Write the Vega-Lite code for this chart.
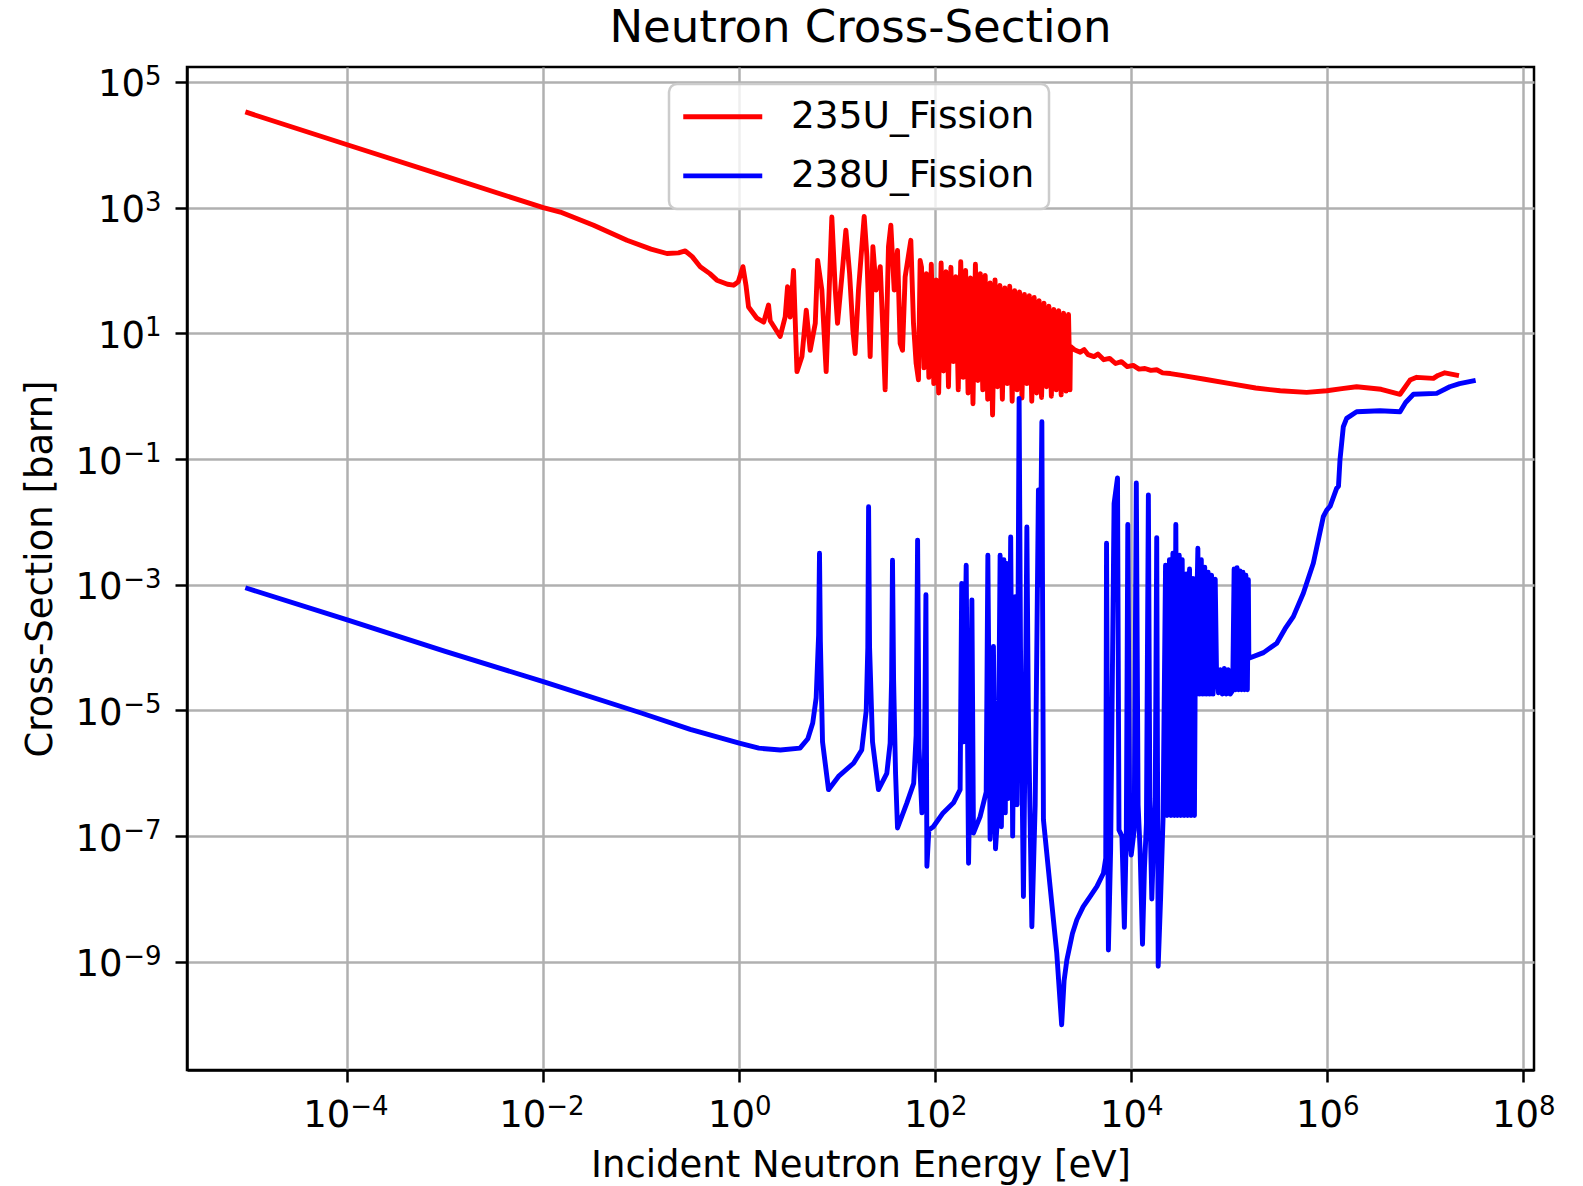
{
  "$schema": "https://vega.github.io/schema/vega-lite/v6.json",
  "width": 1347,
  "height": 1003,
  "autosize": {"type": "none"},
  "padding": {"left": 187, "top": 67, "right": 49, "bottom": 116},
  "background": "white",
  "title": {"text": "Neutron Cross-Section", "fontSize": 45, "font": "DejaVu Sans", "fontWeight": "normal", "color": "black", "anchor": "middle", "frame": "group", "offset": 12},
  "config": {"view": {"stroke": "black", "strokeWidth": 2.5}},
  "data": {"values": [
    {"series": "235U_Fission", "E": 9.64e-6, "sigma": 32400},
    {"series": "235U_Fission", "E": 1e-4, "sigma": 10000},
    {"series": "235U_Fission", "E": 1e-3, "sigma": 3162},
    {"series": "235U_Fission", "E": 0.01, "sigma": 1000},
    {"series": "235U_Fission", "E": 0.01493, "sigma": 851},
    {"series": "235U_Fission", "E": 0.03266, "sigma": 524.8},
    {"series": "235U_Fission", "E": 0.07145, "sigma": 302},
    {"series": "235U_Fission", "E": 0.1259, "sigma": 218.8},
    {"series": "235U_Fission", "E": 0.1828, "sigma": 186.2},
    {"series": "235U_Fission", "E": 0.2399, "sigma": 190.5},
    {"series": "235U_Fission", "E": 0.2812, "sigma": 204.2},
    {"series": "235U_Fission", "E": 0.3311, "sigma": 166},
    {"series": "235U_Fission", "E": 0.3999, "sigma": 114.8},
    {"series": "235U_Fission", "E": 0.5012, "sigma": 89.1},
    {"series": "235U_Fission", "E": 0.5916, "sigma": 70.1},
    {"series": "235U_Fission", "E": 0.7586, "sigma": 60.3},
    {"series": "235U_Fission", "E": 0.875, "sigma": 58.3},
    {"series": "235U_Fission", "E": 0.9772, "sigma": 66.1},
    {"series": "235U_Fission", "E": 1.091, "sigma": 114.8},
    {"series": "235U_Fission", "E": 1.175, "sigma": 56.2},
    {"series": "235U_Fission", "E": 1.245, "sigma": 26.3},
    {"series": "235U_Fission", "E": 1.514, "sigma": 17.4},
    {"series": "235U_Fission", "E": 1.778, "sigma": 15.1},
    {"series": "235U_Fission", "E": 1.991, "sigma": 28.2},
    {"series": "235U_Fission", "E": 2.07, "sigma": 15.85},
    {"series": "235U_Fission", "E": 2.618, "sigma": 8.91},
    {"series": "235U_Fission", "E": 2.944, "sigma": 18.2},
    {"series": "235U_Fission", "E": 3.112, "sigma": 55.0},
    {"series": "235U_Fission", "E": 3.311, "sigma": 18.2},
    {"series": "235U_Fission", "E": 3.581, "sigma": 100},
    {"series": "235U_Fission", "E": 3.882, "sigma": 2.455},
    {"series": "235U_Fission", "E": 4.365, "sigma": 4.266},
    {"series": "235U_Fission", "E": 4.831, "sigma": 23.4},
    {"series": "235U_Fission", "E": 5.297, "sigma": 5.37},
    {"series": "235U_Fission", "E": 5.97, "sigma": 14.45},
    {"series": "235U_Fission", "E": 6.31, "sigma": 144.5},
    {"series": "235U_Fission", "E": 6.966, "sigma": 49.0},
    {"series": "235U_Fission", "E": 7.709, "sigma": 2.455},
    {"series": "235U_Fission", "E": 8.81, "sigma": 707.9},
    {"series": "235U_Fission", "E": 9.55, "sigma": 49.0},
    {"series": "235U_Fission", "E": 10.07, "sigma": 14.45},
    {"series": "235U_Fission", "E": 11.14, "sigma": 79.4},
    {"series": "235U_Fission", "E": 12.25, "sigma": 436.5},
    {"series": "235U_Fission", "E": 13.37, "sigma": 89.1},
    {"series": "235U_Fission", "E": 14.45, "sigma": 11.22},
    {"series": "235U_Fission", "E": 15.24, "sigma": 4.786},
    {"series": "235U_Fission", "E": 16.48, "sigma": 49.0},
    {"series": "235U_Fission", "E": 18.84, "sigma": 724.4},
    {"series": "235U_Fission", "E": 20.09, "sigma": 166},
    {"series": "235U_Fission", "E": 21.68, "sigma": 4.266},
    {"series": "235U_Fission", "E": 23.12, "sigma": 239.9},
    {"series": "235U_Fission", "E": 25.0, "sigma": 49.0},
    {"series": "235U_Fission", "E": 27.48, "sigma": 114.8},
    {"series": "235U_Fission", "E": 29.24, "sigma": 11.22},
    {"series": "235U_Fission", "E": 30.83, "sigma": 1.259},
    {"series": "235U_Fission", "E": 33.34, "sigma": 239.9},
    {"series": "235U_Fission", "E": 35.24, "sigma": 524.8},
    {"series": "235U_Fission", "E": 38.11, "sigma": 49.0},
    {"series": "235U_Fission", "E": 41.21, "sigma": 208.9},
    {"series": "235U_Fission", "E": 43.85, "sigma": 6.918},
    {"series": "235U_Fission", "E": 46.34, "sigma": 5.37},
    {"series": "235U_Fission", "E": 49.32, "sigma": 79.4},
    {"series": "235U_Fission", "E": 56.36, "sigma": 302},
    {"series": "235U_Fission", "E": 59.98, "sigma": 14.45},
    {"series": "235U_Fission", "E": 63.83, "sigma": 3.311},
    {"series": "235U_Fission", "E": 67.45, "sigma": 1.82},
    {"series": "235U_Fission", "E": 70.15, "sigma": 144.5},
    {"series": "235U_Fission", "E": 72.44, "sigma": 112.2},
    {"series": "235U_Fission", "E": 76.74, "sigma": 2.818},
    {"series": "235U_Fission", "E": 81.28, "sigma": 89.13},
    {"series": "235U_Fission", "E": 86.10, "sigma": 1.995},
    {"series": "235U_Fission", "E": 91.20, "sigma": 125.9},
    {"series": "235U_Fission", "E": 96.61, "sigma": 1.585},
    {"series": "235U_Fission", "E": 102.3, "sigma": 70.79},
    {"series": "235U_Fission", "E": 108.4, "sigma": 1.122},
    {"series": "235U_Fission", "E": 114.8, "sigma": 131.8},
    {"series": "235U_Fission", "E": 121.6, "sigma": 2.512},
    {"series": "235U_Fission", "E": 128.8, "sigma": 95.5},
    {"series": "235U_Fission", "E": 136.5, "sigma": 1.413},
    {"series": "235U_Fission", "E": 144.5, "sigma": 112.2},
    {"series": "235U_Fission", "E": 153.1, "sigma": 3.548},
    {"series": "235U_Fission", "E": 162.2, "sigma": 79.43},
    {"series": "235U_Fission", "E": 171.8, "sigma": 1.259},
    {"series": "235U_Fission", "E": 182.0, "sigma": 138.0},
    {"series": "235U_Fission", "E": 192.8, "sigma": 1.995},
    {"series": "235U_Fission", "E": 204.2, "sigma": 100},
    {"series": "235U_Fission", "E": 216.3, "sigma": 1.122},
    {"series": "235U_Fission", "E": 229.1, "sigma": 75.86},
    {"series": "235U_Fission", "E": 242.7, "sigma": 0.7586},
    {"series": "235U_Fission", "E": 257.0, "sigma": 125.9},
    {"series": "235U_Fission", "E": 272.3, "sigma": 1.778},
    {"series": "235U_Fission", "E": 288.4, "sigma": 89.13},
    {"series": "235U_Fission", "E": 305.5, "sigma": 1.259},
    {"series": "235U_Fission", "E": 323.6, "sigma": 83.18},
    {"series": "235U_Fission", "E": 342.8, "sigma": 0.8913},
    {"series": "235U_Fission", "E": 363.1, "sigma": 63.1},
    {"series": "235U_Fission", "E": 384.6, "sigma": 0.5012},
    {"series": "235U_Fission", "E": 407.4, "sigma": 70.79},
    {"series": "235U_Fission", "E": 431.5, "sigma": 1.413},
    {"series": "235U_Fission", "E": 457.1, "sigma": 57.54},
    {"series": "235U_Fission", "E": 484.2, "sigma": 0.8913},
    {"series": "235U_Fission", "E": 512.9, "sigma": 52.48},
    {"series": "235U_Fission", "E": 543.3, "sigma": 1.585},
    {"series": "235U_Fission", "E": 575.4, "sigma": 56.23},
    {"series": "235U_Fission", "E": 609.5, "sigma": 0.8318},
    {"series": "235U_Fission", "E": 645.7, "sigma": 47.86},
    {"series": "235U_Fission", "E": 683.9, "sigma": 1.259},
    {"series": "235U_Fission", "E": 724.4, "sigma": 45.71},
    {"series": "235U_Fission", "E": 767.4, "sigma": 0.9333},
    {"series": "235U_Fission", "E": 812.8, "sigma": 41.69},
    {"series": "235U_Fission", "E": 861.0, "sigma": 1.585},
    {"series": "235U_Fission", "E": 912.0, "sigma": 39.81},
    {"series": "235U_Fission", "E": 966.1, "sigma": 0.8318},
    {"series": "235U_Fission", "E": 1023, "sigma": 37.15},
    {"series": "235U_Fission", "E": 1084, "sigma": 1.122},
    {"series": "235U_Fission", "E": 1148, "sigma": 33.11},
    {"series": "235U_Fission", "E": 1216, "sigma": 0.955},
    {"series": "235U_Fission", "E": 1288, "sigma": 30.2},
    {"series": "235U_Fission", "E": 1365, "sigma": 1.413},
    {"series": "235U_Fission", "E": 1445, "sigma": 26.92},
    {"series": "235U_Fission", "E": 1531, "sigma": 1.0},
    {"series": "235U_Fission", "E": 1622, "sigma": 23.99},
    {"series": "235U_Fission", "E": 1718, "sigma": 1.259},
    {"series": "235U_Fission", "E": 1820, "sigma": 22.91},
    {"series": "235U_Fission", "E": 1928, "sigma": 1.047},
    {"series": "235U_Fission", "E": 2042, "sigma": 20.89},
    {"series": "235U_Fission", "E": 2163, "sigma": 1.202},
    {"series": "235U_Fission", "E": 2291, "sigma": 19.95},
    {"series": "235U_Fission", "E": 2371, "sigma": 1.259},
    {"series": "235U_Fission", "E": 2399, "sigma": 6.166},
    {"series": "235U_Fission", "E": 2630, "sigma": 5.495},
    {"series": "235U_Fission", "E": 3020, "sigma": 5.012},
    {"series": "235U_Fission", "E": 3311, "sigma": 5.495},
    {"series": "235U_Fission", "E": 3631, "sigma": 4.571},
    {"series": "235U_Fission", "E": 4169, "sigma": 4.266},
    {"series": "235U_Fission", "E": 4571, "sigma": 4.677},
    {"series": "235U_Fission", "E": 5248, "sigma": 3.802},
    {"series": "235U_Fission", "E": 6026, "sigma": 3.981},
    {"series": "235U_Fission", "E": 6918, "sigma": 3.311},
    {"series": "235U_Fission", "E": 7943, "sigma": 3.548},
    {"series": "235U_Fission", "E": 9120, "sigma": 2.951},
    {"series": "235U_Fission", "E": 10470, "sigma": 3.09},
    {"series": "235U_Fission", "E": 12020, "sigma": 2.692},
    {"series": "235U_Fission", "E": 13800, "sigma": 2.754},
    {"series": "235U_Fission", "E": 15850, "sigma": 2.57},
    {"series": "235U_Fission", "E": 18200, "sigma": 2.63},
    {"series": "235U_Fission", "E": 20890, "sigma": 2.344},
    {"series": "235U_Fission", "E": 25120, "sigma": 2.291},
    {"series": "235U_Fission", "E": 31620, "sigma": 2.163},
    {"series": "235U_Fission", "E": 56230, "sigma": 1.862},
    {"series": "235U_Fission", "E": 102300, "sigma": 1.585},
    {"series": "235U_Fission", "E": 186200, "sigma": 1.349},
    {"series": "235U_Fission", "E": 331100, "sigma": 1.219},
    {"series": "235U_Fission", "E": 616600, "sigma": 1.148},
    {"series": "235U_Fission", "E": 988600, "sigma": 1.219},
    {"series": "235U_Fission", "E": 1413000, "sigma": 1.318},
    {"series": "235U_Fission", "E": 1995000, "sigma": 1.413},
    {"series": "235U_Fission", "E": 3548000, "sigma": 1.288},
    {"series": "235U_Fission", "E": 5534000, "sigma": 1.072},
    {"series": "235U_Fission", "E": 6998000, "sigma": 1.803},
    {"series": "235U_Fission", "E": 8185000, "sigma": 1.995},
    {"series": "235U_Fission", "E": 12110000, "sigma": 1.919},
    {"series": "235U_Fission", "E": 13490000, "sigma": 2.138},
    {"series": "235U_Fission", "E": 15850000, "sigma": 2.355},
    {"series": "235U_Fission", "E": 20890000, "sigma": 2.163},

    {"series": "238U_Fission", "E": 9.64e-6, "sigma": 8.71e-4},
    {"series": "238U_Fission", "E": 1e-4, "sigma": 2.754e-4},
    {"series": "238U_Fission", "E": 1e-3, "sigma": 8.71e-5},
    {"series": "238U_Fission", "E": 0.01, "sigma": 2.884e-5},
    {"series": "238U_Fission", "E": 0.1, "sigma": 9.12e-6},
    {"series": "238U_Fission", "E": 0.3162, "sigma": 5.012e-6},
    {"series": "238U_Fission", "E": 1, "sigma": 3.02e-6},
    {"series": "238U_Fission", "E": 1.585, "sigma": 2.512e-6},
    {"series": "238U_Fission", "E": 2.63, "sigma": 2.344e-6},
    {"series": "238U_Fission", "E": 4.169, "sigma": 2.512e-6},
    {"series": "238U_Fission", "E": 5.012, "sigma": 3.548e-6},
    {"series": "238U_Fission", "E": 5.623, "sigma": 6.31e-6},
    {"series": "238U_Fission", "E": 6.095, "sigma": 1.585e-5},
    {"series": "238U_Fission", "E": 6.457, "sigma": 1.585e-4},
    {"series": "238U_Fission", "E": 6.592, "sigma": 3.162e-3},
    {"series": "238U_Fission", "E": 6.73, "sigma": 1.259e-4},
    {"series": "238U_Fission", "E": 7.079, "sigma": 3.162e-6},
    {"series": "238U_Fission", "E": 8.147, "sigma": 5.495e-7},
    {"series": "238U_Fission", "E": 10.3, "sigma": 8.913e-7},
    {"series": "238U_Fission", "E": 14.66, "sigma": 1.445e-6},
    {"series": "238U_Fission", "E": 17.78, "sigma": 2.344e-6},
    {"series": "238U_Fission", "E": 19.77, "sigma": 1e-5},
    {"series": "238U_Fission", "E": 20.51, "sigma": 1e-4},
    {"series": "238U_Fission", "E": 20.89, "sigma": 0.01738},
    {"series": "238U_Fission", "E": 21.38, "sigma": 1e-4},
    {"series": "238U_Fission", "E": 22.91, "sigma": 3.162e-6},
    {"series": "238U_Fission", "E": 26.36, "sigma": 5.495e-7},
    {"series": "238U_Fission", "E": 32.06, "sigma": 1e-6},
    {"series": "238U_Fission", "E": 34.67, "sigma": 3.02e-6},
    {"series": "238U_Fission", "E": 35.89, "sigma": 3.162e-5},
    {"series": "238U_Fission", "E": 36.64, "sigma": 2.455e-3},
    {"series": "238U_Fission", "E": 37.58, "sigma": 3.162e-5},
    {"series": "238U_Fission", "E": 39.36, "sigma": 1e-6},
    {"series": "238U_Fission", "E": 41.21, "sigma": 1.349e-7},
    {"series": "238U_Fission", "E": 51.4, "sigma": 3.388e-7},
    {"series": "238U_Fission", "E": 60.26, "sigma": 6.918e-7},
    {"series": "238U_Fission", "E": 63.83, "sigma": 3.981e-6},
    {"series": "238U_Fission", "E": 66.07, "sigma": 5.129e-3},
    {"series": "238U_Fission", "E": 68.39, "sigma": 2.512e-6},
    {"series": "238U_Fission", "E": 73.11, "sigma": 2.344e-7},
    {"series": "238U_Fission", "E": 77.62, "sigma": 1.585e-6},
    {"series": "238U_Fission", "E": 80.35, "sigma": 6.918e-4},
    {"series": "238U_Fission", "E": 82.22, "sigma": 3.311e-8},
    {"series": "238U_Fission", "E": 86.1, "sigma": 1.259e-7},
    {"series": "238U_Fission", "E": 95.5, "sigma": 1.413e-7},
    {"series": "238U_Fission", "E": 120.2, "sigma": 2.344e-7},
    {"series": "238U_Fission", "E": 153.5, "sigma": 3.388e-7},
    {"series": "238U_Fission", "E": 179.5, "sigma": 5.495e-7},
    {"series": "238U_Fission", "E": 186.2, "sigma": 1.047e-3},
    {"series": "238U_Fission", "E": 195.0, "sigma": 3.162e-6},
    {"series": "238U_Fission", "E": 207.0, "sigma": 2.042e-3},
    {"series": "238U_Fission", "E": 218.8, "sigma": 3.715e-8},
    {"series": "238U_Fission", "E": 229.1, "sigma": 3.162e-6},
    {"series": "238U_Fission", "E": 236.6, "sigma": 5.754e-4},
    {"series": "238U_Fission", "E": 245.5, "sigma": 1.122e-7},
    {"series": "238U_Fission", "E": 287.1, "sigma": 2.042e-7},
    {"series": "238U_Fission", "E": 331.1, "sigma": 5.012e-7},
    {"series": "238U_Fission", "E": 344.4, "sigma": 2.951e-3},
    {"series": "238U_Fission", "E": 363.1, "sigma": 8.913e-8},
    {"series": "238U_Fission", "E": 378.4, "sigma": 3.162e-7},
    {"series": "238U_Fission", "E": 392.6, "sigma": 1.047e-4},
    {"series": "238U_Fission", "E": 412.1, "sigma": 6.31e-8},
    {"series": "238U_Fission", "E": 436.5, "sigma": 2.512e-7},
    {"series": "238U_Fission", "E": 459.2, "sigma": 2.951e-3},
    {"series": "238U_Fission", "E": 473.2, "sigma": 1.413e-7},
    {"series": "238U_Fission", "E": 501.2, "sigma": 2.512e-3},
    {"series": "238U_Fission", "E": 518.8, "sigma": 2.344e-7},
    {"series": "238U_Fission", "E": 537.0, "sigma": 2.188e-3},
    {"series": "238U_Fission", "E": 555.9, "sigma": 3.981e-7},
    {"series": "238U_Fission", "E": 588.8, "sigma": 5.754e-3},
    {"series": "238U_Fission", "E": 616.6, "sigma": 1e-7},
    {"series": "238U_Fission", "E": 653.1, "sigma": 6.457e-4},
    {"series": "238U_Fission", "E": 683.9, "sigma": 3.162e-7},
    {"series": "238U_Fission", "E": 717.8, "sigma": 0.9226},
    {"series": "238U_Fission", "E": 741.3, "sigma": 1e-4},
    {"series": "238U_Fission", "E": 794.3, "sigma": 1.096e-8},
    {"series": "238U_Fission", "E": 831.8, "sigma": 1e-5},
    {"series": "238U_Fission", "E": 861.0, "sigma": 8.318e-3},
    {"series": "238U_Fission", "E": 891.3, "sigma": 1e-5},
    {"series": "238U_Fission", "E": 968.3, "sigma": 3.631e-9},
    {"series": "238U_Fission", "E": 1047, "sigma": 3.162e-7},
    {"series": "238U_Fission", "E": 1130, "sigma": 0.03236},
    {"series": "238U_Fission", "E": 1175, "sigma": 1e-3},
    {"series": "238U_Fission", "E": 1225, "sigma": 0.3917},
    {"series": "238U_Fission", "E": 1271, "sigma": 1.82e-7},
    {"series": "238U_Fission", "E": 1486, "sigma": 1.585e-8},
    {"series": "238U_Fission", "E": 1738, "sigma": 1.38e-9},
    {"series": "238U_Fission", "E": 1950, "sigma": 1e-10},
    {"series": "238U_Fission", "E": 2065, "sigma": 5.012e-10},
    {"series": "238U_Fission", "E": 2203, "sigma": 1.072e-9},
    {"series": "238U_Fission", "E": 2512, "sigma": 2.818e-9},
    {"series": "238U_Fission", "E": 2786, "sigma": 4.677e-9},
    {"series": "238U_Fission", "E": 3236, "sigma": 7.586e-9},
    {"series": "238U_Fission", "E": 3802, "sigma": 1.096e-8},
    {"series": "238U_Fission", "E": 4467, "sigma": 1.585e-8},
    {"series": "238U_Fission", "E": 5200, "sigma": 2.57e-8},
    {"series": "238U_Fission", "E": 5495, "sigma": 4.467e-8},
    {"series": "238U_Fission", "E": 5598, "sigma": 4.571e-3},
    {"series": "238U_Fission", "E": 5848, "sigma": 1.549e-9},
    {"series": "238U_Fission", "E": 6166, "sigma": 6.31e-8},
    {"series": "238U_Fission", "E": 6683, "sigma": 0.0195},
    {"series": "238U_Fission", "E": 7244, "sigma": 0.0501},
    {"series": "238U_Fission", "E": 7499, "sigma": 1.259e-7},
    {"series": "238U_Fission", "E": 8035, "sigma": 1e-7},
    {"series": "238U_Fission", "E": 8511, "sigma": 3.548e-9},
    {"series": "238U_Fission", "E": 8913, "sigma": 1.259e-7},
    {"series": "238U_Fission", "E": 9226, "sigma": 9.12e-3},
    {"series": "238U_Fission", "E": 9661, "sigma": 1e-7},
    {"series": "238U_Fission", "E": 10000, "sigma": 5.012e-8},
    {"series": "238U_Fission", "E": 10720, "sigma": 1.259e-7},
    {"series": "238U_Fission", "E": 11270, "sigma": 0.04169},
    {"series": "238U_Fission", "E": 11750, "sigma": 3.162e-7},
    {"series": "238U_Fission", "E": 12300, "sigma": 6.31e-8},
    {"series": "238U_Fission", "E": 13030, "sigma": 1.905e-9},
    {"series": "238U_Fission", "E": 13650, "sigma": 3.162e-8},
    {"series": "238U_Fission", "E": 14290, "sigma": 1.585e-7},
    {"series": "238U_Fission", "E": 14960, "sigma": 0.02692},
    {"series": "238U_Fission", "E": 15490, "sigma": 3.162e-7},
    {"series": "238U_Fission", "E": 16220, "sigma": 1e-8},
    {"series": "238U_Fission", "E": 16980, "sigma": 1e-7},
    {"series": "238U_Fission", "E": 17580, "sigma": 3.981e-7},
    {"series": "238U_Fission", "E": 18200, "sigma": 5.623e-3},
    {"series": "238U_Fission", "E": 18840, "sigma": 8.511e-10},
    {"series": "238U_Fission", "E": 19950, "sigma": 1.047e-8},
    {"series": "238U_Fission", "E": 21130, "sigma": 1.995e-7},
    {"series": "238U_Fission", "E": 22390, "sigma": 2.042e-3},
    {"series": "238U_Fission", "E": 23170, "sigma": 2.138e-7},
    {"series": "238U_Fission", "E": 24550, "sigma": 2.512e-3},
    {"series": "238U_Fission", "E": 25410, "sigma": 2.138e-7},
    {"series": "238U_Fission", "E": 26610, "sigma": 3.162e-3},
    {"series": "238U_Fission", "E": 27540, "sigma": 2.138e-7},
    {"series": "238U_Fission", "E": 28510, "sigma": 9.12e-3},
    {"series": "238U_Fission", "E": 29510, "sigma": 2.138e-7},
    {"series": "238U_Fission", "E": 30900, "sigma": 2.951e-3},
    {"series": "238U_Fission", "E": 31990, "sigma": 2.138e-7},
    {"series": "238U_Fission", "E": 33110, "sigma": 2.512e-3},
    {"series": "238U_Fission", "E": 34670, "sigma": 2.138e-7},
    {"series": "238U_Fission", "E": 36310, "sigma": 1.479e-3},
    {"series": "238U_Fission", "E": 37580, "sigma": 2.138e-7},
    {"series": "238U_Fission", "E": 39360, "sigma": 1.778e-3},
    {"series": "238U_Fission", "E": 40740, "sigma": 2.138e-7},
    {"series": "238U_Fission", "E": 42660, "sigma": 1.259e-3},
    {"series": "238U_Fission", "E": 44160, "sigma": 2.138e-7},
    {"series": "238U_Fission", "E": 44870, "sigma": 1.82e-5},
    {"series": "238U_Fission", "E": 47860, "sigma": 3.802e-3},
    {"series": "238U_Fission", "E": 49550, "sigma": 1.82e-5},
    {"series": "238U_Fission", "E": 51880, "sigma": 2.512e-3},
    {"series": "238U_Fission", "E": 53700, "sigma": 1.82e-5},
    {"series": "238U_Fission", "E": 56230, "sigma": 1.905e-3},
    {"series": "238U_Fission", "E": 58210, "sigma": 1.82e-5},
    {"series": "238U_Fission", "E": 60950, "sigma": 1.585e-3},
    {"series": "238U_Fission", "E": 63100, "sigma": 1.82e-5},
    {"series": "238U_Fission", "E": 66070, "sigma": 1.413e-3},
    {"series": "238U_Fission", "E": 68390, "sigma": 1.82e-5},
    {"series": "238U_Fission", "E": 71940, "sigma": 1.23e-3},
    {"series": "238U_Fission", "E": 74130, "sigma": 4.467e-5},
    {"series": "238U_Fission", "E": 77620, "sigma": 1.905e-5},
    {"series": "238U_Fission", "E": 81280, "sigma": 4.467e-5},
    {"series": "238U_Fission", "E": 85110, "sigma": 1.82e-5},
    {"series": "238U_Fission", "E": 89130, "sigma": 4.677e-5},
    {"series": "238U_Fission", "E": 93330, "sigma": 1.82e-5},
    {"series": "238U_Fission", "E": 97720, "sigma": 4.467e-5},
    {"series": "238U_Fission", "E": 102300, "sigma": 1.82e-5},
    {"series": "238U_Fission", "E": 108400, "sigma": 2.089e-5},
    {"series": "238U_Fission", "E": 112200, "sigma": 1.778e-3},
    {"series": "238U_Fission", "E": 116100, "sigma": 2.138e-5},
    {"series": "238U_Fission", "E": 120200, "sigma": 1.862e-3},
    {"series": "238U_Fission", "E": 124500, "sigma": 2.138e-5},
    {"series": "238U_Fission", "E": 128800, "sigma": 1.66e-3},
    {"series": "238U_Fission", "E": 133400, "sigma": 2.138e-5},
    {"series": "238U_Fission", "E": 138000, "sigma": 1.585e-3},
    {"series": "238U_Fission", "E": 142900, "sigma": 2.138e-5},
    {"series": "238U_Fission", "E": 147900, "sigma": 1.413e-3},
    {"series": "238U_Fission", "E": 153100, "sigma": 2.138e-5},
    {"series": "238U_Fission", "E": 156700, "sigma": 1.202e-3},
    {"series": "238U_Fission", "E": 158500, "sigma": 6.761e-5},
    {"series": "238U_Fission", "E": 223900, "sigma": 8.318e-5},
    {"series": "238U_Fission", "E": 305500, "sigma": 1.175e-4},
    {"series": "238U_Fission", "E": 371500, "sigma": 1.995e-4},
    {"series": "238U_Fission", "E": 450800, "sigma": 3.112e-4},
    {"series": "238U_Fission", "E": 570200, "sigma": 7.328e-4},
    {"series": "238U_Fission", "E": 721100, "sigma": 2.198e-3},
    {"series": "238U_Fission", "E": 912000, "sigma": 0.01211},
    {"series": "238U_Fission", "E": 988600, "sigma": 0.01545},
    {"series": "238U_Fission", "E": 1072000, "sigma": 0.01778},
    {"series": "238U_Fission", "E": 1247000, "sigma": 0.0342},
    {"series": "238U_Fission", "E": 1303000, "sigma": 0.03715},
    {"series": "238U_Fission", "E": 1349000, "sigma": 0.09638},
    {"series": "238U_Fission", "E": 1459000, "sigma": 0.3266},
    {"series": "238U_Fission", "E": 1578000, "sigma": 0.4436},
    {"series": "238U_Fission", "E": 1995000, "sigma": 0.5649},
    {"series": "238U_Fission", "E": 3459000, "sigma": 0.5861},
    {"series": "238U_Fission", "E": 5534000, "sigma": 0.5649},
    {"series": "238U_Fission", "E": 6310000, "sigma": 0.7943},
    {"series": "238U_Fission", "E": 7586000, "sigma": 1.072},
    {"series": "238U_Fission", "E": 13090000, "sigma": 1.109},
    {"series": "238U_Fission", "E": 17780000, "sigma": 1.413},
    {"series": "238U_Fission", "E": 22390000, "sigma": 1.585},
    {"series": "238U_Fission", "E": 30900000, "sigma": 1.758}
  ]},
  "layer": [
    {
      "mark": {"type": "line", "strokeWidth": 4.9, "strokeJoin": "round", "strokeCap": "square", "clip": true},
      "encoding": {
        "x": {
          "field": "E", "type": "quantitative",
          "scale": {"type": "log", "domain": [2.317e-6, 1.288e8], "nice": false},
          "axis": {
            "orient": "bottom",
            "title": "Incident Neutron Energy [eV]",
            "values": [0.0001, 0.01, 1, 100, 10000, 1000000, 100000000],
            "labelExpr": "'10'",
            "labelAlign": "right",
            "labelOffset": {"condition": {"test": "datum.value < 1", "value": 2.5}, "value": 15.25},
            "grid": true, "gridColor": "#b0b0b0", "gridWidth": 2.5, "gridOpacity": 1,
            "domain": true, "domainColor": "black", "domainWidth": 2.5,
            "ticks": true, "tickColor": "black", "tickWidth": 2.5, "tickSize": 12,
            "labelFont": "DejaVu Sans", "labelFontSize": 37, "labelColor": "black", "labelPadding": 15.6, "labelBaseline": "top",
            "labelFlush": false, "labelOverlap": false, "labelBound": false,
            "titleFont": "DejaVu Sans", "titleFontSize": 37, "titleFontWeight": "normal", "titleColor": "black", "titlePadding": 14
          }
        },
        "y": {
          "field": "sigma", "type": "quantitative",
          "scale": {"type": "log", "domain": [1.905e-11, 1.726e5], "nice": false},
          "axis": {
            "orient": "left",
            "title": "Cross-Section [barn]",
            "values": [100000, 1000, 10, 0.1, 0.001, 0.00001, 0.0000001, 0.000000001],
            "labelExpr": "'10'",
            "labelAlign": "right",
            "labelBaseline": "middle",
            "labelOffset": 3,
            "labelPadding": {"condition": {"test": "datum.value < 1", "value": 53}, "value": 30.5},
            "grid": true, "gridColor": "#b0b0b0", "gridWidth": 2.5, "gridOpacity": 1,
            "domain": true, "domainColor": "black", "domainWidth": 2.5,
            "ticks": true, "tickColor": "black", "tickWidth": 2.5, "tickSize": 12,
            "labelFont": "DejaVu Sans", "labelFontSize": 37, "labelColor": "black",
            "labelFlush": false, "labelOverlap": false, "labelBound": false,
            "titleFont": "DejaVu Sans", "titleFontSize": 37, "titleFontWeight": "normal", "titleColor": "black", "titlePadding": 15
          }
        },
        "color": {
          "field": "series", "type": "nominal",
          "scale": {"domain": ["235U_Fission", "238U_Fission"], "range": ["#ff0000", "#0000ff"]},
          "legend": {
            "title": null, "orient": "none", "legendX": 482, "legendY": 17,
            "symbolType": "M-1.85,0H6.05", "symbolSize": 400, "symbolStrokeWidth": 4.9,
            "labelFont": "DejaVu Sans", "labelFontSize": 37.5, "labelColor": "black", "labelOffset": 70.5, "labelLimit": 0,
            "rowPadding": 20.1, "padding": 14,
            "fillColor": "rgba(255,255,255,0.8)", "strokeColor": "#cccccc", "cornerRadius": 8,
            "encode": {"legend": {"update": {"strokeWidth": {"value": 2.5}}}}
          }
        }
      }
    },
    {
      "mark": {"type": "point", "opacity": 0, "size": 1},
      "encoding": {
        "x": {
          "field": "E", "type": "quantitative",
          "scale": {"type": "log", "domain": [2.317e-6, 1.288e8], "nice": false},
          "axis": {
            "orient": "bottom",
            "title": null,
            "values": [0.0001, 0.01, 1, 100, 10000, 1000000, 100000000],
            "labelExpr": "datum.value < 0.001 ? '\u22124' : datum.value < 0.1 ? '\u22122' : datum.value < 10 ? '0' : datum.value < 1000 ? '2' : datum.value < 100000 ? '4' : datum.value < 10000000 ? '6' : '8'",
            "labelAlign": "left",
            "labelOffset": {"condition": {"test": "datum.value < 1", "value": 2.5}, "value": 15.25},
            "grid": false, "domain": false, "ticks": false,
            "labelFont": "DejaVu Sans", "labelFontSize": 26, "labelColor": "black", "labelPadding": 23.6, "labelBaseline": "top",
            "labelFlush": false, "labelOverlap": false, "labelBound": false
          }
        },
        "y": {
          "field": "sigma", "type": "quantitative",
          "scale": {"type": "log", "domain": [1.905e-11, 1.726e5], "nice": false},
          "axis": {
            "orient": "left",
            "title": null,
            "values": [100000, 1000, 10, 0.1, 0.001, 0.00001, 0.0000001, 0.000000001],
            "labelExpr": "datum.value > 10000 ? '5' : datum.value > 100 ? '3' : datum.value > 1 ? '1' : datum.value > 0.01 ? '\u22121' : datum.value > 0.0001 ? '\u22123' : datum.value > 0.000001 ? '\u22125' : datum.value > 0.00000001 ? '\u22127' : '\u22129'",
            "labelAlign": "right",
            "labelBaseline": "middle",
            "labelOffset": -5.5,
            "labelPadding": 26,
            "grid": false, "domain": false, "ticks": false,
            "labelFont": "DejaVu Sans", "labelFontSize": 26, "labelColor": "black",
            "labelFlush": false, "labelOverlap": false, "labelBound": false
          }
        }
      }
    }
  ],
  "resolve": {"axis": {"x": "independent", "y": "independent"}}
}
